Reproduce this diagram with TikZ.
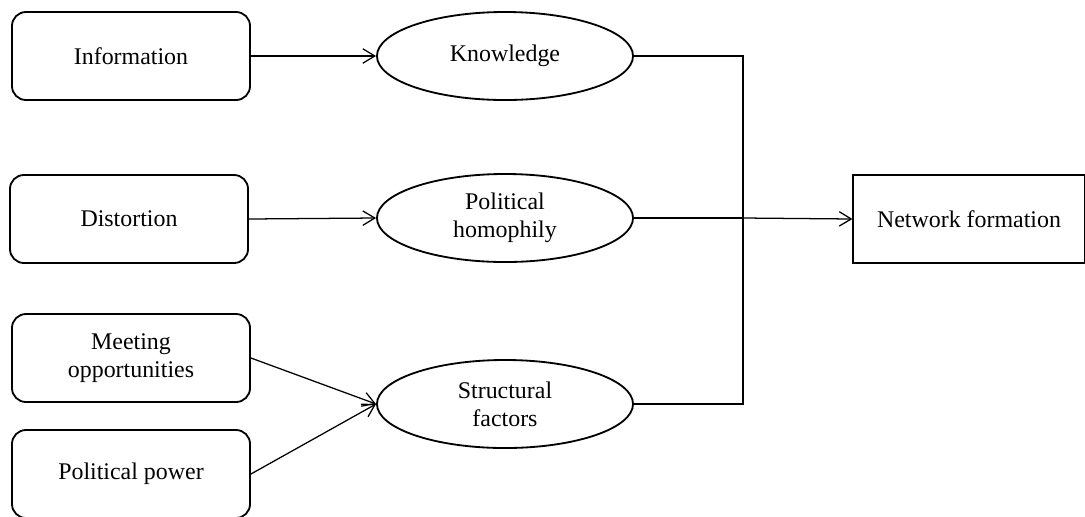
\documentclass[tikz,border=0pt]{standalone}
\usepackage{fontspec}
\setmainfont{Liberation Serif}
\usetikzlibrary{shapes, arrows, positioning, calc, arrows.meta}

\begin{document}
\begin{tikzpicture}[x=0.025cm, y=-0.025cm, >={Straight Barb[length=3mm, width=3.6mm]},
  every node/.style={font=\fontsize{17}{20}\selectfont, align=center},
  src/.style={draw, line width=1.3pt, rounded corners=0.35cm, minimum width=5.95cm, minimum height=2.2cm},
  mid/.style={draw, ellipse, line width=1.3pt, minimum width=6.4cm, minimum height=2.2cm, inner sep=0pt},
  link/.style={line width=0.9pt}]
  \useasboundingbox (0,0) rectangle (1085,516);

  \node[src] (info) at (131,56) {Information};
  \node[src] (dist) at (129,219) {Distortion};
  \node[src] (meet) at (131,358) {Meeting\\opportunities};
  \node[src] (power) at (131,474) {Political power};

  \node[mid] (know) at (505,56) {Knowledge};
  \node[mid] (homo) at (505,218) {Political\\homophily};
  \node[mid] (struct) at (505,404) {Structural\\factors};

  \node[draw, line width=1.3pt, minimum width=5.78cm, minimum height=2.2cm] (net) at (969,219) {Network formation};
  \coordinate (join) at (743,218);

  \draw[link, ->] (info) -- (know);
  \draw[link, ->] (dist.east) -- (homo.west);
  \draw[link, ->] (meet.east) -- (struct.west);
  \draw[link, ->] (power.east) -- (struct.west);

  \draw[link] (know.east) -| (join);
  \draw[link] (struct.east) -| (join);
  \draw[link] (homo.east) -- (join);
  \draw[link, ->] (join) -- (net.west);
\end{tikzpicture}
\end{document}
